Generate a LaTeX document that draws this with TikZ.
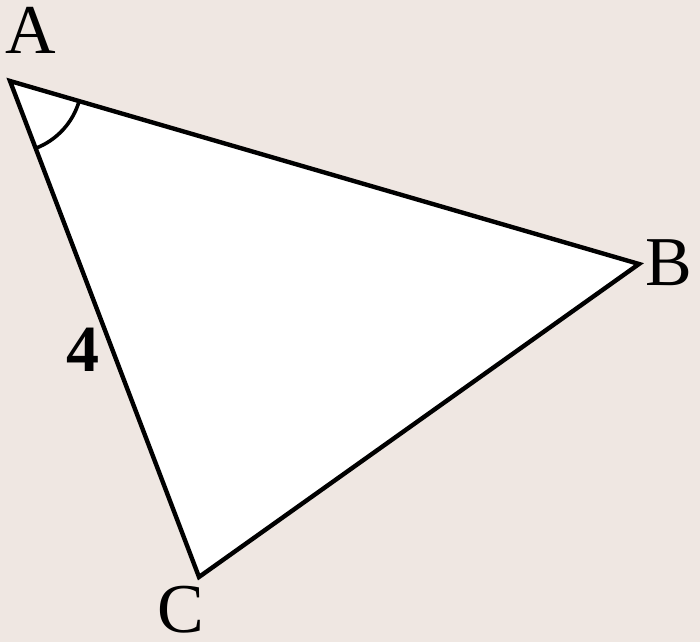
\documentclass[tikz,border=0pt]{standalone}
\usepackage{fontspec}
\usetikzlibrary{calc}
\setmainfont{Liberation Serif}
\definecolor{bgc}{RGB}{239,231,226}
\begin{document}
\begin{tikzpicture}[x=1pt,y=1pt,
  edge/.style={line width=4.4pt,line join=miter,black},
  lbl/.style={inner sep=0pt,font=\fontsize{70}{70}\selectfont},
  num/.style={inner sep=0pt,font=\fontsize{66}{66}\selectfont\bfseries}]
\fill[bgc] (0,0) rectangle (700,642);
\useasboundingbox (0,0) rectangle (700,642);
\coordinate (A) at (10,561);
\coordinate (B) at (639,378);
\coordinate (C) at (199,65);
\fill[white] (A) -- (B) -- (C) -- cycle;
\draw[edge] (A) -- (B) -- (C) -- cycle;
\draw[line width=3.6pt] ($(A)!72pt!(B)$) arc[start angle=-16.2, end angle=-69.1, radius=72pt];
\node[lbl] (la) at (31,612) {A};
\node[lbl] (lb) at (669,379) {B};
\node[lbl] (lc) at (181,32) {C};
\node[num] (l4) at (83,292) {4};
\end{tikzpicture}
\end{document}
